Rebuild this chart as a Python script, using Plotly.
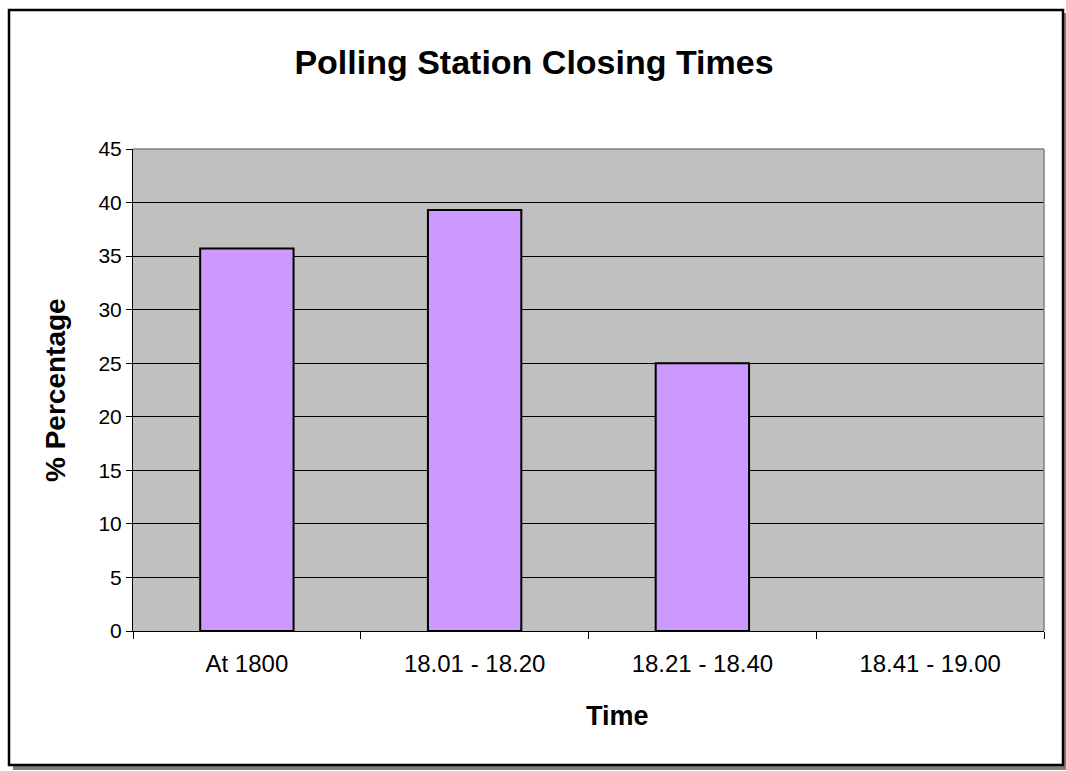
import plotly.graph_objects as go

# Polling station closing times, share of stations per time band
categories = ["At 1800", "18.01 - 18.20", "18.21 - 18.40", "18.41 - 19.00"]
percentages = [35.7, 39.3, 25.0, 0.0]
y_ticks = [0, 5, 10, 15, 20, 25, 30, 35, 40, 45]

W, H = 1066, 771
L, R, T, B = 133, 1044, 149, 631  # plot-area edges in pixels
FONT = "Liberation Sans, Arial, sans-serif"


def px_x(px):
    return (px - L) / (R - L)


def px_y(py):
    return (B - py) / (B - T)


# empty bands get no outline so nothing is drawn on the axis
outline_widths = [2 if v > 0 else 0 for v in percentages]

fig = go.Figure(
    go.Bar(
        x=categories,
        y=percentages,
        width=0.41,
        marker=dict(color="#CC99FF",
                    line=dict(color="black", width=outline_widths)),
    )
)

shapes = [
    # drop shadow and frame of the chart
    dict(type="rect", xref="paper", yref="paper", layer="below",
         x0=px_x(13), x1=px_x(1066), y0=px_y(13), y1=px_y(770),
         fillcolor="#808080", line=dict(width=0)),
    dict(type="rect", xref="paper", yref="paper", layer="below",
         x0=px_x(9), x1=px_x(1063), y0=px_y(10), y1=px_y(765),
         fillcolor="white", line=dict(color="black", width=2.5)),
    # grey plot area
    dict(type="rect", xref="paper", yref="paper", layer="below",
         x0=0, x1=1, y0=0, y1=1, fillcolor="#C0C0C0", line=dict(width=0)),
    # grey border on the top and right of the plot area
    dict(type="line", xref="paper", yref="paper", layer="above",
         x0=0, x1=1, y0=1, y1=1, line=dict(color="#808080", width=1.5)),
    dict(type="line", xref="paper", yref="paper", layer="above",
         x0=1, x1=1, y0=0, y1=1, line=dict(color="#808080", width=1.5)),
]

annotations = [
    dict(text="<b>% Percentage</b>", xref="paper", yref="paper",
         x=0, y=0.5, xshift=55 - L, textangle=-90, showarrow=False,
         xanchor="center", yanchor="middle",
         font=dict(family=FONT, size=28, color="black")),
    dict(text="<b>Time</b>", xref="paper", yref="paper",
         x=0.5, y=0, xshift=617 - (L + R) / 2, yshift=-(716 - B),
         showarrow=False, xanchor="center", yanchor="middle",
         font=dict(family=FONT, size=27, color="black")),
]

fig.update_layout(
    width=W,
    height=H,
    margin=dict(l=L, r=W - R, t=T, b=H - B, pad=0),
    paper_bgcolor="white",
    plot_bgcolor="#C0C0C0",
    showlegend=False,
    title=dict(
        text="<b>Polling Station Closing Times</b>",
        x=534 / W, xanchor="center",
        y=1 - 62 / H, yanchor="middle",
        font=dict(family=FONT, size=34, color="black"),
    ),
    font=dict(family=FONT, color="black"),
    shapes=shapes,
    annotations=annotations,
    bargap=0.59,
)

fig.update_xaxes(
    type="category",
    categoryorder="array",
    categoryarray=categories,
    tickson="boundaries",
    ticks="outside",
    ticklen=7,
    tickwidth=1,
    tickcolor="black",
    showgrid=False,
    showline=True,
    linecolor="black",
    linewidth=1,
    tickfont=dict(family=FONT, size=24, color="black"),
    ticklabelstandoff=11,
    fixedrange=True,
)

fig.update_yaxes(
    range=[0, 45],
    tickmode="array",
    tickvals=y_ticks,
    ticktext=[str(v) for v in y_ticks],
    ticks="outside",
    ticklen=6,
    tickwidth=1,
    tickcolor="black",
    showgrid=True,
    gridcolor="black",
    gridwidth=1,
    zeroline=False,
    showline=True,
    linecolor="black",
    linewidth=1,
    tickfont=dict(family=FONT, size=21, color="black"),
    ticklabelstandoff=0,
    fixedrange=True,
)

fig.write_html("out.html", config={"displayModeBar": False})
